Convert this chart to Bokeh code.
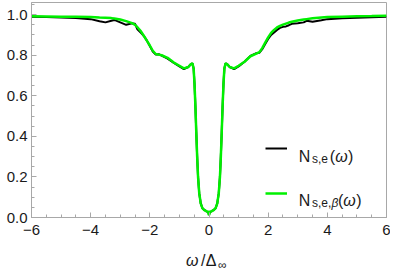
from bokeh.plotting import figure
from bokeh.layouts import column
from bokeh.models import (Label, Legend, LegendItem, SingleIntervalTicker,
                          Range1d, ColumnDataSource)
from bokeh.embed import file_html
from bokeh.resources import INLINE

# ---- data ----
omega = [-6.0, -5.5, -5.0, -4.5, -4.0, -3.7, -3.5, -3.3, -3.2, -3.0, -2.8, -2.6,
         -2.5, -2.42, -2.3, -2.2, -2.1, -2.0, -1.9, -1.8, -1.7, -1.6, -1.4, -1.2,
         -1.0, -0.85, -0.7, -0.62, -0.56, -0.52, -0.49, -0.46, -0.43, -0.40, -0.37,
         -0.33, -0.28, -0.22, -0.15, -0.08, -0.03, 0.0, 0.03, 0.08, 0.15, 0.22,
         0.28, 0.33, 0.37, 0.40, 0.43, 0.46, 0.49, 0.52, 0.56, 0.62, 0.7, 0.85,
         1.0, 1.2, 1.4, 1.6, 1.7, 1.8, 1.9, 2.0, 2.1, 2.2, 2.3, 2.4, 2.5, 2.6,
         2.7, 2.8, 3.0, 3.2, 3.3, 3.5, 3.8, 4.0, 4.5, 5.0, 5.5, 6.0]

n_beta = [0.992, 0.991, 0.990, 0.990, 0.988, 0.986, 0.985, 0.983, 0.981, 0.976, 0.968, 0.958,
          0.950, 0.938, 0.918, 0.895, 0.872, 0.848, 0.822, 0.806, 0.803, 0.800, 0.787, 0.765,
          0.748, 0.735, 0.742, 0.755, 0.760, 0.735, 0.66, 0.55, 0.42, 0.30, 0.20,
          0.12, 0.07, 0.045, 0.036, 0.030, 0.028, 0.012, 0.028, 0.030, 0.036, 0.045,
          0.07, 0.12, 0.20, 0.30, 0.42, 0.55, 0.66, 0.735, 0.760, 0.755, 0.742, 0.735,
          0.748, 0.768, 0.795, 0.808, 0.815, 0.835, 0.862, 0.888, 0.910, 0.925, 0.937, 0.945, 0.951, 0.956,
          0.961, 0.965, 0.971, 0.976, 0.978, 0.982, 0.986, 0.988, 0.990, 0.992, 0.993, 0.995]

n_e = [0.990, 0.988, 0.986, 0.984, 0.978, 0.968, 0.962, 0.970, 0.974, 0.962, 0.950, 0.957,
       0.955, 0.928, 0.910, 0.895, 0.872, 0.845, 0.818, 0.803, 0.805, 0.798, 0.783, 0.763,
       0.745, 0.732, 0.742, 0.755, 0.760, 0.735, 0.66, 0.55, 0.42, 0.30, 0.20,
       0.12, 0.07, 0.045, 0.036, 0.030, 0.028, 0.012, 0.028, 0.030, 0.036, 0.045,
       0.07, 0.12, 0.20, 0.30, 0.42, 0.55, 0.66, 0.735, 0.760, 0.755, 0.742, 0.732,
       0.745, 0.768, 0.797, 0.810, 0.812, 0.830, 0.855, 0.880, 0.900, 0.912, 0.925, 0.935, 0.940, 0.942,
       0.948, 0.955, 0.958, 0.962, 0.970, 0.965, 0.972, 0.978, 0.982, 0.985, 0.987, 0.990]

assert len(omega) == len(n_beta) == len(n_e)

x_ticks = [-6, -4, -2, 0, 2, 4, 6]
x_tick_labels = ["\u22126", "\u22124", "\u22122", "0", "2", "4", "6"]
y_tick_labels = ["0.0", "0.2", "0.4", "0.6", "0.8", "1.0"]

FONT = "Liberation Sans"
GRAY = "#a8a8a8"
TXT = "#1a1a1a"

src = ColumnDataSource(dict(x=omega, ne=n_e, nb=n_beta))

p = figure(frame_width=355, frame_height=215, output_backend="svg", toolbar_location=None,
           x_range=Range1d(-6, 6), y_range=Range1d(0, 1.06),
           min_border_left=31, min_border_right=4, min_border_top=2, min_border_bottom=26)
p.background_fill_color = "white"
p.border_fill_color = "white"
p.outline_line_color = GRAY
p.xgrid.visible = False
p.ygrid.visible = False

r_e = p.line("x", "ne", source=src, line_color="black", line_width=2)
r_b = p.line("x", "nb", source=src, line_color="#00f000", line_width=2.5)

p.xaxis.ticker = SingleIntervalTicker(interval=2, num_minor_ticks=4)
p.yaxis.ticker = SingleIntervalTicker(interval=0.2, num_minor_ticks=4)
p.xaxis.major_label_overrides = {t: l for t, l in zip(x_ticks, x_tick_labels)}
p.yaxis.major_label_overrides = {round(0.2 * i, 1): l for i, l in enumerate(y_tick_labels)}
for ax in (p.xaxis, p.yaxis):
    ax.axis_line_color = GRAY
    ax.major_tick_line_color = GRAY
    ax.minor_tick_line_color = GRAY
    ax.major_tick_in = 5
    ax.major_tick_out = 0
    ax.minor_tick_in = 3
    ax.minor_tick_out = 0
    ax.major_label_text_font = FONT
    ax.major_label_text_font_size = "15px"
    ax.major_label_text_color = TXT
p.xaxis.major_label_standoff = 7
p.yaxis.major_label_standoff = 4

legend = Legend(items=[LegendItem(label=" ", renderers=[r_e]),
                       LegendItem(label=" ", renderers=[r_b])],
                location=(234, 14), glyph_width=22, glyph_height=20,
                label_height=20, label_width=0, label_standoff=0, spacing=25,
                padding=0, margin=0, border_line_color=None,
                background_fill_alpha=0, label_text_font_size="1px")
p.add_layout(legend, "center")


def lab(fig, x, y, text, size="16px", style="normal"):
    fig.add_layout(Label(x=x, y=y, text=text, text_font=FONT, text_font_size=size,
                         text_font_style=style, text_color=TXT,
                         text_align="left", text_baseline="alphabetic"))


# legend texts
lab(p, 3.03, 0.300, "N")
lab(p, 3.48, 0.289, "s,e", "12px")
lab(p, 4.08, 0.300, "(")
lab(p, 4.27, 0.300, "\u03c9", style="italic")
lab(p, 4.70, 0.300, ")")

lab(p, 3.03, 0.084, "N")
lab(p, 3.48, 0.073, "s,e,", "12px")
lab(p, 4.14, 0.073, "\u03b2", "12px", "italic")
lab(p, 4.36, 0.084, "(")
lab(p, 4.54, 0.084, "\u03c9", style="italic")
lab(p, 4.98, 0.084, ")")

# strip below the plot carrying the x-axis title  omega / Delta_inf
q = figure(frame_width=355, frame_height=28, output_backend="svg", toolbar_location=None,
           x_range=p.x_range, y_range=Range1d(0, 28), x_axis_type=None, y_axis_type=None,
           min_border_left=31, min_border_right=4, min_border_top=0, min_border_bottom=0)
q.outline_line_color = None
q.xgrid.visible = False
q.ygrid.visible = False
q.background_fill_color = "white"
q.border_fill_color = "white"

lab(q, -0.78, 11.5, "\u03c9", style="italic")
lab(q, -0.27, 11.5, "/")
lab(q, -0.11, 11.5, "\u0394")
lab(q, 0.30, 6.5, "\u221e", "12px")

open("out.html", "w").write(file_html(column(p, q, spacing=0), INLINE))
